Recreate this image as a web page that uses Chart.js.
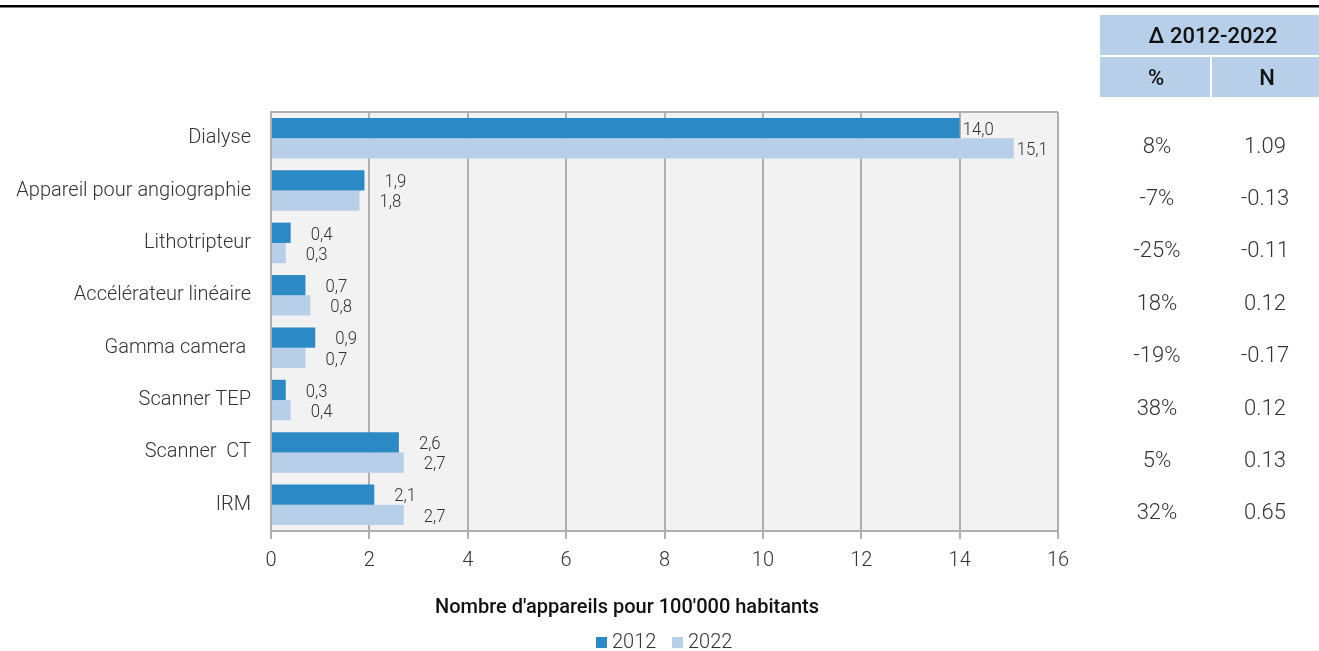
<!DOCTYPE html>
<html>
<head>
<meta charset="utf-8">
<script src="https://cdn.jsdelivr.net/npm/chart.js@4"></script>
<style>
  html, body { margin: 0; padding: 0; background: #fff; }
  #wrap { width: 1319px; height: 651px; position: relative; }
</style>
</head>
<body>
<div id="wrap"><canvas id="equipChart"></canvas></div>
<script>
const categories = ['Dialyse', 'Appareil pour angiographie', 'Lithotripteur', 'Accélérateur linéaire',
    'Gamma camera ', 'Scanner TEP', 'Scanner  CT', 'IRM'];
const values2012 = [14.0, 1.9, 0.4, 0.7, 0.9, 0.3, 2.6, 2.1];
const values2022 = [15.1, 1.8, 0.3, 0.8, 0.7, 0.4, 2.7, 2.7];
const deltaPct = ['8%', '-7%', '-25%', '18%', '-19%', '38%', '5%', '32%'];
const deltaN = ['1.09', '-0.13', '-0.11', '0.12', '-0.17', '0.12', '0.13', '0.65'];
const xTicks = [0, 2, 4, 6, 8, 10, 12, 14, 16];

const TEXT = '#333333';
const HEAD_FILL = '#b8cfea';
const COLOR_2012 = '#2b8ac6';
const COLOR_2022 = '#b8cfea';

// grey plot background, frame, top rule, delta table, axis title and legend
const decorations = {
    id: 'decorations',
    beforeDraw(chart) {
        const { ctx, chartArea: a } = chart;
        ctx.save();
        ctx.fillStyle = '#f2f2f2';
        ctx.fillRect(a.left, a.top, a.right - a.left, a.bottom - a.top);
        ctx.restore();
    },
    afterDraw(chart) {
        const { ctx, chartArea: a } = chart;
        const y = chart.scales.y;
        ctx.save();
        // top frame line of the plot
        ctx.strokeStyle = '#b0b0b0';
        ctx.lineWidth = 2;
        ctx.beginPath();
        ctx.moveTo(a.left, a.top);
        ctx.lineTo(a.right, a.top);
        ctx.stroke();

        // black rule across the page
        ctx.fillStyle = '#000';
        ctx.fillRect(0, 5, chart.width, 2.5);

        // table header
        ctx.fillStyle = HEAD_FILL;
        ctx.fillRect(1100, 15, 219, 40);
        ctx.fillRect(1100, 57, 110, 40);
        ctx.fillRect(1212, 57, 107, 40);
        ctx.fillStyle = '#111';
        ctx.font = '500 22px Roboto';
        ctx.textAlign = 'center';
        ctx.textBaseline = 'middle';
        ctx.fillText('Δ 2012-2022', 1213, 37);
        ctx.fillText('%', 1156, 79);
        ctx.fillText('N', 1267, 79);

        // table rows
        ctx.fillStyle = TEXT;
        ctx.font = '300 22px Roboto';
        categories.forEach((c, i) => {
            const cy = y.getPixelForValue(i) + 9;
            ctx.fillText(deltaPct[i], 1157, cy);
            ctx.fillText(deltaN[i], 1265, cy);
        });

        // axis title
        ctx.fillStyle = '#111';
        ctx.font = '500 20px Roboto';
        ctx.fillText("Nombre d'appareils pour 100'000 habitants", 627, 608);

        // legend
        ctx.textAlign = 'left';
        ctx.font = '300 20px Roboto';
        [['2012', COLOR_2012, 596], ['2022', COLOR_2022, 672]].forEach(([txt, col, lx]) => {
            ctx.fillStyle = col;
            ctx.fillRect(lx, 637, 11, 11);
            ctx.fillStyle = TEXT;
            ctx.fillText(txt, lx + 16, 643);
        });
        ctx.restore();
    }
};

// value labels to the right of each bar, comma decimal;
// a category's labels hug the bars when one would run past the frame
const barLabels = {
    id: 'barLabels',
    afterDatasetsDraw(chart) {
        const { ctx, chartArea: a } = chart;
        const sx = 0.88;
        const gap = 20;
        const metas = chart.data.datasets.map((ds, di) => chart.getDatasetMeta(di));
        const fmt = v => v.toFixed(1).replace('.', ',');
        ctx.save();
        ctx.font = '300 19px Roboto';
        ctx.fillStyle = TEXT;
        ctx.textBaseline = 'middle';
        ctx.textAlign = 'left';
        categories.forEach((c, i) => {
            const tight = chart.data.datasets.some((ds, di) =>
                metas[di].data[i].x + gap + ctx.measureText(fmt(ds.data[i])).width * sx > a.right);
            chart.data.datasets.forEach((ds, di) => {
                const bar = metas[di].data[i];
                const x = bar.x + (tight ? 3 : gap);
                ctx.save();
                ctx.translate(x, bar.y + 2);
                ctx.scale(sx, 1);
                ctx.fillText(fmt(ds.data[i]), 0, 0);
                ctx.restore();
            });
        });
        ctx.restore();
    }
};

new Chart(document.getElementById('equipChart'), {
    type: 'bar',
    data: {
        labels: categories,
        datasets: [{
            label: '2012',
            data: values2012,
            backgroundColor: COLOR_2012,
            borderWidth: 0
        }, {
            label: '2022',
            data: values2022,
            backgroundColor: COLOR_2022,
            borderWidth: 0
        }]
    },
    options: {
        indexAxis: 'y',
        responsive: true,
        maintainAspectRatio: false,
        animation: false,
        categoryPercentage: 0.775,
        barPercentage: 1.0,
        layout: { padding: { top: 112, right: 261, left: 0, bottom: 0 } },
        scales: {
            x: {
                min: 0,
                max: 16,
                afterBuildTicks(scale) {
                    scale.ticks = xTicks.map(v => ({ value: v }));
                },
                afterFit(scale) { scale.height = 120; },
                grid: {
                    color: '#b0b0b0',
                    lineWidth: 2,
                    drawTicks: true,
                    tickLength: 8,
                    tickColor: '#b0b0b0'
                },
                border: { display: true, color: '#b0b0b0', width: 2 },
                ticks: {
                    color: TEXT,
                    padding: 10,
                    font: { family: 'Roboto', size: 20, weight: 300 }
                }
            },
            y: {
                afterFit(scale) { scale.width = 271; },
                grid: { display: false },
                border: { display: true, color: '#b0b0b0', width: 2 },
                ticks: {
                    color: TEXT,
                    padding: 12,
                    font: { family: 'Roboto', size: 20, weight: 300 }
                }
            }
        },
        plugins: {
            legend: { display: false },
            tooltip: { enabled: false }
        }
    },
    plugins: [decorations, barLabels]
});
</script>
</body>
</html>
